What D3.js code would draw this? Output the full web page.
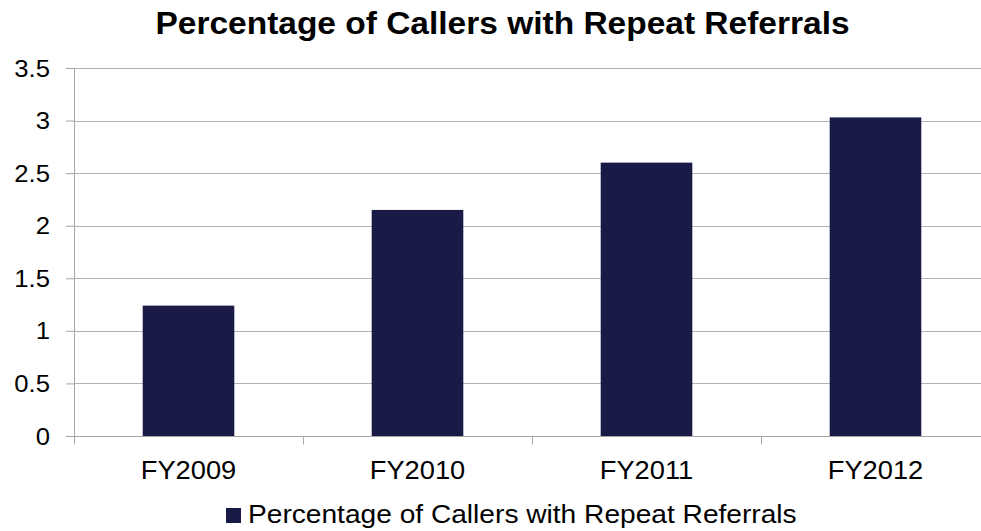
<!DOCTYPE html>
<html>
<head>
<meta charset="utf-8">
<script src="https://cdn.jsdelivr.net/npm/d3@7"></script>
<style>
  body { margin: 0; background: #fff; }
  svg { display: block; font-family: "Liberation Sans", Arial, sans-serif; }
  .grid line { stroke: #b3b3b3; stroke-width: 1; }
  .axis path, .axis line { stroke: #a6a6a6; }
  text { fill: #000; }
</style>
</head>
<body>
<div id="chart"></div>
<script>
var categories = ['FY2009', 'FY2010', 'FY2011', 'FY2012'];
var values = [1.24, 2.15, 2.60, 3.03];
var yTicks = [0, 0.5, 1, 1.5, 2, 2.5, 3, 3.5];
var seriesName = 'Percentage of Callers with Repeat Referrals';
var chartTitle = 'Percentage of Callers with Repeat Referrals';

var width = 981, height = 531;
var margin = { top: 68, right: -9, bottom: 95, left: 74 };
var innerW = width - margin.left - margin.right;
var innerH = height - margin.top - margin.bottom;
var barColor = '#1a1a47';
var stretch = 1.07; // source text is a little wider than the font

var svg = d3.select('#chart').append('svg')
    .attr('width', width)
    .attr('height', height);

// text helper: places a horizontally stretched label
function label(parent, tx, ty, txt, size, anchor, weight) {
  return parent.append('text')
      .attr('transform', 'translate(' + tx + ',' + ty + ') scale(' + stretch + ',1)')
      .attr('text-anchor', anchor || 'start')
      .attr('font-size', size + 'px')
      .attr('font-weight', weight || 'normal')
      .text(txt);
}

var g = svg.append('g')
    .attr('transform', 'translate(' + margin.left + ',' + margin.top + ')');

var x = d3.scaleBand().domain(categories).range([0, innerW]).paddingInner(0.6).paddingOuter(0.3);
var xTick = d3.scaleBand().domain(categories).range([0, innerW]);
var y = d3.scaleLinear().domain([0, 3.5]).range([innerH, 0]);

// horizontal gridlines
g.append('g').attr('class', 'grid')
  .selectAll('line')
  .data(yTicks.filter(function (d) { return d > 0; }))
  .enter().append('line')
    .attr('x1', 0)
    .attr('x2', innerW)
    .attr('y1', function (d) { return Math.round(y(d)) + 0.5; })
    .attr('y2', function (d) { return Math.round(y(d)) + 0.5; });

// bars
g.selectAll('rect.bar')
  .data(values)
  .enter().append('rect')
    .attr('class', 'bar')
    .attr('x', function (d, i) { return x(categories[i]); })
    .attr('width', x.bandwidth())
    .attr('y', function (d) { return y(d); })
    .attr('height', function (d) { return innerH - y(d); })
    .attr('fill', barColor);

// y axis (line + ticks from d3, labels placed by hand for the stretch)
var yAxis = d3.axisLeft(y).tickValues(yTicks).tickSize(8).tickFormat('');
var yg = g.append('g').attr('class', 'axis').call(yAxis);
yg.select('.domain').attr('d', 'M0.5,' + innerH + 'V0');
yTicks.forEach(function (t) {
  label(g, -24, y(t) + 8.5, String(t), 24, 'end');
});

// x axis, ticks at category boundaries
var xg = g.append('g').attr('class', 'axis')
    .attr('transform', 'translate(0,' + (innerH + 0.5) + ')');
xg.append('line').attr('x1', 0).attr('x2', innerW).attr('y1', 0).attr('y2', 0);
xg.selectAll('line.tk')
  .data(categories)
  .enter().append('line')
    .attr('class', 'tk')
    .attr('x1', function (d) { return Math.round(xTick(d)) + 0.5; })
    .attr('x2', function (d) { return Math.round(xTick(d)) + 0.5; })
    .attr('y1', 0).attr('y2', 8);
categories.forEach(function (c) {
  label(xg, x(c) + x.bandwidth() / 2, 42, c, 25.5, 'middle');
});

// title
label(svg, 502.5, 34, chartTitle, 31.3, 'middle', 'bold');

// legend
var legend = svg.append('g').attr('transform', 'translate(226,508)');
legend.append('rect')
    .attr('width', 15).attr('height', 15)
    .attr('fill', barColor);
label(legend, 22, 15, seriesName, 26.3, 'start');
</script>
</body>
</html>
